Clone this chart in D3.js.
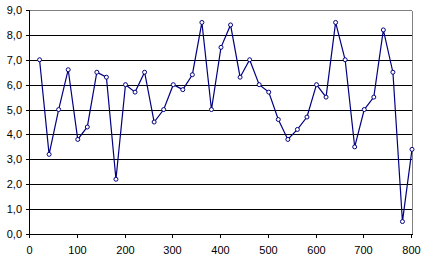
<!DOCTYPE html>
<html>
<head>
<meta charset="utf-8">
<script src="https://cdn.jsdelivr.net/npm/d3@7"></script>
<style>
    body { margin: 0; background: #fff; }
    svg { display: block; }
    text { font-family: "Liberation Sans", Arial, sans-serif; font-size: 11px; fill: #000; }
</style>
</head>
<body>
<svg id="chart" width="427" height="260"></svg>
<script>
const xs = [20, 40, 60, 80, 100, 120, 140, 160, 180, 200,
    220, 240, 260, 280, 300, 320, 340, 360, 380, 400,
    420, 440, 460, 480, 500, 520, 540, 560, 580, 600,
    620, 640, 660, 680, 700, 720, 740, 760, 780, 800];
const ys = [7.0, 3.2, 5.0, 6.6, 3.8, 4.3, 6.5, 6.3, 2.2, 6.0,
    5.7, 6.5, 4.5, 5.0, 6.0, 5.8, 6.4, 8.5, 5.0, 7.5,
    8.4, 6.3, 7.0, 6.0, 5.7, 4.6, 3.8, 4.2, 4.7, 6.0,
    5.5, 8.5, 7.0, 3.5, 5.0, 5.5, 8.2, 6.5, 0.5, 3.4];
const x_ticks = [0, 100, 200, 300, 400, 500, 600, 700, 800];
const y_ticks = [0, 1, 2, 3, 4, 5, 6, 7, 8, 9];

const svg = d3.select("#chart");

const x = d3.scaleLinear().domain([0, 800]).range([30, 412]);
const y = d3.scaleLinear().domain([0, 9]).range([234, 10]);

const crisp = v => Math.round(v) + 0.5;
const fmt = v => d3.format(".1f")(v).replace(".", ",");

// gridlines
svg.append("g")
    .selectAll("line")
    .data(y_ticks.filter(t => t > 0))
    .join("line")
    .attr("x1", x(0))
    .attr("x2", x(800))
    .attr("y1", d => crisp(y(d)))
    .attr("y2", d => crisp(y(d)))
    .attr("stroke", d => d === 9 ? "#808080" : "#000")
    .attr("shape-rendering", "crispEdges");

// right border
svg.append("line")
    .attr("x1", crisp(x(800))).attr("x2", crisp(x(800)))
    .attr("y1", crisp(y(9))).attr("y2", crisp(y(0)))
    .attr("stroke", "#808080")
    .attr("shape-rendering", "crispEdges");

// y axis
const y_axis = svg.append("g");
y_axis.append("line")
    .attr("x1", crisp(x(0) - 1)).attr("x2", crisp(x(0) - 1))
    .attr("y1", crisp(y(9))).attr("y2", crisp(y(0)))
    .attr("stroke", "#000")
    .attr("shape-rendering", "crispEdges");
const y_tick = y_axis.selectAll("g.tick")
    .data(y_ticks)
    .join("g")
    .classed("tick", true)
    .attr("transform", d => `translate(0,${crisp(y(d))})`);
y_tick.append("line")
    .attr("x1", x(0) - 4).attr("x2", x(0))
    .attr("stroke", "#000")
    .attr("shape-rendering", "crispEdges");
y_tick.append("text")
    .attr("x", 22)
    .attr("dy", "0.35em")
    .attr("text-anchor", "end")
    .text(fmt);

// x axis
const x_axis = svg.append("g");
x_axis.append("line")
    .attr("x1", x(0) - 1).attr("x2", x(800) + 1)
    .attr("y1", crisp(y(0))).attr("y2", crisp(y(0)))
    .attr("stroke", "#000")
    .attr("shape-rendering", "crispEdges");
const x_tick = x_axis.selectAll("g.tick")
    .data(x_ticks)
    .join("g")
    .classed("tick", true)
    .attr("transform", d => `translate(${crisp(x(d) - 1)},0)`);
x_tick.append("line")
    .attr("y1", y(0)).attr("y2", y(0) + 4)
    .attr("stroke", "#000")
    .attr("shape-rendering", "crispEdges");
x_tick.append("text")
    .attr("y", 254)
    .attr("text-anchor", "middle")
    .text(d => d);

// series
const points = xs.map((v, i) => [v, ys[i]]);
const line = d3.line()
    .x(d => x(d[0]))
    .y(d => y(d[1]));

svg.append("path")
    .datum(points)
    .attr("d", line)
    .attr("fill", "none")
    .attr("stroke", "#000080")
    .attr("stroke-width", 1.2);

svg.append("g")
    .selectAll("circle")
    .data(points)
    .join("circle")
    .attr("cx", d => x(d[0]))
    .attr("cy", d => y(d[1]))
    .attr("r", 2)
    .attr("fill", "#fff")
    .attr("stroke", "#000080")
    .attr("stroke-width", 1);
</script>
</body>
</html>
